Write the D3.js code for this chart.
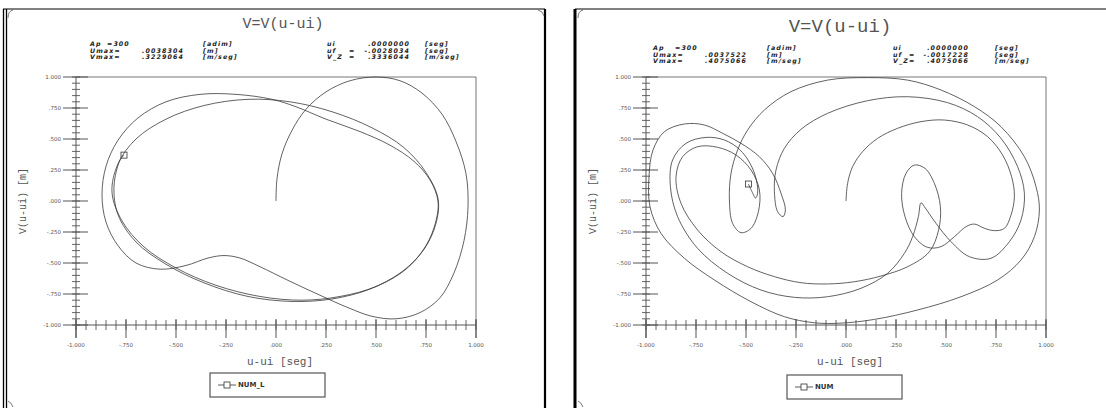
<!DOCTYPE html>
<html>
<head>
<meta charset="utf-8">
<script src="https://cdn.jsdelivr.net/npm/d3@7"></script>
<style>
body { margin: 0; background: #fff; }
svg { display: block; }
.hdr { font-family: "DejaVu Sans", sans-serif; font-style: italic; font-weight: bold; font-size: 6.3px; letter-spacing: 1.1px; fill: #222; }
.tk { font-family: "DejaVu Sans", sans-serif; font-size: 5.5px; fill: #555; }
.mono { font-family: "Liberation Mono", "DejaVu Sans Mono", monospace; fill: #555; }
.leg { font-family: "DejaVu Sans", sans-serif; font-weight: bold; font-size: 7px; fill: #333; }
</style>
</head>
<body>
<svg id="chart" width="1106" height="408"></svg>
<script>
// tick values and labels (same on both axes)
var tickValues = [-1, -0.75, -0.5, -0.25, 0, 0.25, 0.5, 0.75, 1];
var tickLabels = ["-1.000", "-.750", "-.500", "-.250", ".000", ".250", ".500", ".750", "1.000"];

var titles = ["V=V(u-ui)", "V=V(u-ui)"];
var xLabel = "u-ui [seg]";
var yLabel = "V(u-ui)  [m]";
var legendNames = ["NUM_L", "NUM"];

// header rows: label, value, unit, label, "=", value, unit
var headerLeft = [
    ["Ap", "=300", "[adim]", "ui", "", ".0000000", "[seg]"],
    ["Umax=", ".0038304", "[m]", "uf", "=", "-.0028034", "[seg]"],
    ["Vmax=", ".3229064", "[m/seg]", "V_Z", "=", ".3336044", "[m/seg]"]
];
var headerRight = [
    ["Ap", "=300", "[adim]", "ui", "", ".0000000", "[seg]"],
    ["Umax=", ".0037522", "[m]", "uf", "=", "-.0017228", "[seg]"],
    ["Vmax=", ".4075066", "[m/seg]", "V_Z", "=", ".4075066", "[m/seg]"]
];

// trajectory  [u-ui, V]
var leftPath = [
    [0.00, 0.00], [0.005, 0.18], [0.03, 0.38], [0.08, 0.57], [0.15, 0.74], [0.25, 0.88],
    [0.37, 0.97], [0.50, 1.00], [0.62, 0.97], [0.73, 0.87], [0.83, 0.70], [0.90, 0.48],
    [0.95, 0.22], [0.96, -0.05], [0.94, -0.32], [0.89, -0.58], [0.82, -0.78], [0.72, -0.90],
    [0.60, -0.95], [0.48, -0.93], [0.36, -0.86], [0.22, -0.76], [0.06, -0.64], [-0.08, -0.53],
    [-0.18, -0.46], [-0.26, -0.44], [-0.34, -0.46], [-0.45, -0.52], [-0.58, -0.55], [-0.70, -0.50],
    [-0.79, -0.36], [-0.85, -0.17], [-0.87, 0.05], [-0.85, 0.28], [-0.79, 0.49], [-0.69, 0.67],
    [-0.55, 0.80], [-0.38, 0.86], [-0.20, 0.86], [-0.02, 0.82], [0.10, 0.76], [0.25, 0.66],
    [0.42, 0.56], [0.57, 0.45], [0.69, 0.32], [0.77, 0.17], [0.81, 0.00],
    [0.80, -0.16], [0.75, -0.36], [0.65, -0.55], [0.50, -0.69], [0.32, -0.77], [0.13, -0.80],
    [-0.08, -0.77], [-0.30, -0.68], [-0.50, -0.54], [-0.66, -0.37], [-0.77, -0.16], [-0.82, 0.07],
    [-0.79, 0.30], [-0.70, 0.50], [-0.55, 0.66], [-0.36, 0.77], [-0.14, 0.82], [0.07, 0.80],
    [0.28, 0.72], [0.48, 0.59], [0.64, 0.43], [0.75, 0.23], [0.81, 0.02],
    [0.80, -0.18], [0.74, -0.39], [0.63, -0.57], [0.47, -0.71], [0.28, -0.79], [0.08, -0.81],
    [-0.14, -0.77], [-0.36, -0.66], [-0.55, -0.51], [-0.70, -0.33], [-0.79, -0.11], [-0.81, 0.12],
    [-0.78, 0.33], [-0.76, 0.37]
];

// trajectory  [u-ui, V]
var rightPath = [
    // first arc from the origin round the right side
    [0.000, 0.000], [0.008, 0.142], [0.033, 0.277], [0.083, 0.398], [0.158, 0.505], [0.258, 0.586],
    [0.375, 0.640], [0.492, 0.653], [0.608, 0.613], [0.708, 0.519], [0.783, 0.371], [0.828, 0.196],
    [0.842, 0.035], [0.825, -0.113], [0.792, -0.221],
    // wiggle, small right loop
    [0.742, -0.239], [0.692, -0.220], [0.642, -0.186], [0.600, -0.207], [0.542, -0.288], [0.475, -0.368],
    [0.408, -0.374], [0.342, -0.288], [0.295, -0.126], [0.278, 0.062], [0.300, 0.223], [0.342, 0.290],
    [0.395, 0.263], [0.442, 0.142], [0.472, -0.046], [0.463, -0.234], [0.417, -0.409], [0.308, -0.530],
    // inner lower band and left side
    [0.175, -0.605], [0.042, -0.651], [-0.092, -0.669], [-0.225, -0.659], [-0.358, -0.610], [-0.492, -0.530],
    [-0.625, -0.409], [-0.742, -0.234], [-0.825, -0.019], [-0.850, 0.196], [-0.817, 0.357], [-0.742, 0.438],
    // loop round the left well
    [-0.642, 0.433], [-0.550, 0.371], [-0.475, 0.250], [-0.433, 0.089], [-0.438, -0.086], [-0.475, -0.221],
    [-0.525, -0.255], [-0.567, -0.180], [-0.583, 0.008], [-0.575, 0.223], [-0.542, 0.411],
    // big outer loop
    [-0.492, 0.572], [-0.408, 0.734], [-0.275, 0.882], [-0.092, 0.975], [0.108, 0.995], [0.308, 0.975],
    [0.475, 0.895], [0.642, 0.761], [0.775, 0.599], [0.892, 0.357], [0.950, 0.116], [0.967, -0.073],
    [0.942, -0.288], [0.875, -0.476], [0.758, -0.637], [0.575, -0.772], [0.358, -0.879], [0.142, -0.955],
    [-0.025, -0.985], [-0.158, -0.982], [-0.308, -0.933], [-0.475, -0.812], [-0.658, -0.637], [-0.808, -0.462],
    [-0.925, -0.261], [-0.980, -0.046], [-0.985, 0.196], [-0.965, 0.411], [-0.908, 0.559], [-0.808, 0.621],
    [-0.708, 0.613], [-0.617, 0.546],
    // small left loop and second arc
    [-0.525, 0.465], [-0.433, 0.357], [-0.367, 0.223], [-0.325, 0.062], [-0.303, -0.073], [-0.315, -0.126],
    [-0.342, -0.086], [-0.358, 0.075], [-0.350, 0.250], [-0.308, 0.425], [-0.225, 0.578], [-0.092, 0.707],
    [0.108, 0.809], [0.308, 0.841], [0.508, 0.793], [0.658, 0.680], [0.775, 0.505], [0.858, 0.277],
    [0.892, 0.062], [0.875, -0.153], [0.817, -0.328], [0.725, -0.462], [0.617, -0.449], [0.525, -0.328],
    [0.450, -0.180], [0.392, -0.046], [0.375, -0.014],
    // cusp, second lower band, left side and hook
    [0.362, -0.126], [0.333, -0.288], [0.292, -0.422], [0.208, -0.583], [0.075, -0.704], [-0.092, -0.772],
    [-0.258, -0.777], [-0.425, -0.718], [-0.592, -0.583], [-0.742, -0.382], [-0.842, -0.126], [-0.878, 0.116],
    [-0.867, 0.331], [-0.800, 0.465], [-0.700, 0.513], [-0.608, 0.492], [-0.533, 0.417], [-0.478, 0.298],
    [-0.448, 0.169], [-0.442, 0.062], [-0.452, 0.024], [-0.470, 0.075], [-0.488, 0.137]
];

var svg = d3.select("#chart");

// panel frames
function curl(d) {
    svg.append("path").attr("d", d).attr("fill", "none").attr("stroke", "#555").attr("stroke-width", 0.8);
}
svg.append("line").attr("x1", 3.5).attr("x2", 3.5).attr("y1", 9).attr("y2", 408).attr("stroke", "#000").attr("stroke-width", 1.3);
svg.append("line").attr("x1", 6.5).attr("x2", 6.5).attr("y1", 9).attr("y2", 408).attr("stroke", "#000").attr("stroke-width", 1.3);
svg.append("line").attr("x1", 3).attr("x2", 545).attr("y1", 9).attr("y2", 9).attr("stroke", "#000").attr("stroke-width", 1);
svg.append("line").attr("x1", 545).attr("x2", 545).attr("y1", 9).attr("y2", 408).attr("stroke", "#000").attr("stroke-width", 2.2);
svg.append("line").attr("x1", 575).attr("x2", 575).attr("y1", 9).attr("y2", 408).attr("stroke", "#000").attr("stroke-width", 3);
svg.append("line").attr("x1", 575).attr("x2", 1106).attr("y1", 9).attr("y2", 9).attr("stroke", "#000").attr("stroke-width", 1);
curl("M8,18 Q8,11 13,10");
curl("M538,10 Q543,11 544,16");
curl("M578,18 Q578,11 583,10");
curl("M8,401 Q11,402 13,407");
curl("M578,401 Q581,402 583,407");

function drawPanel(offset, path, header, cols, rowY, title, titleSize, titleX, titleY, legendX, legendY, legendName) {
    var x = d3.scaleLinear().domain([-1, 1]).range([76 + offset, 476 + offset]);
    var y = d3.scaleLinear().domain([-1, 1]).range([325, 77]);
    var g = svg.append("g");
    var minor = d3.range(-20, 21).map(function(i) { return i * 0.05; });

    // box top and right
    g.append("line").attr("x1", x(-1)).attr("x2", x(1)).attr("y1", y(1)).attr("y2", y(1))
        .attr("stroke", "#777").attr("stroke-width", 1);
    g.append("line").attr("x1", x(1)).attr("x2", x(1)).attr("y1", y(1)).attr("y2", y(-1) + 13)
        .attr("stroke", "#777").attr("stroke-width", 1);
    // axes lines
    g.append("line").attr("x1", x(-1)).attr("x2", x(1)).attr("y1", y(-1)).attr("y2", y(-1))
        .attr("stroke", "#555").attr("stroke-width", 1);
    g.append("line").attr("x1", x(-1)).attr("x2", x(-1)).attr("y1", y(1)).attr("y2", y(-1) + 13)
        .attr("stroke", "#555").attr("stroke-width", 1);

    // minor ticks
    g.selectAll(".mx").data(minor).enter().append("line")
        .attr("x1", function(d) { return x(d); }).attr("x2", function(d) { return x(d); })
        .attr("y1", y(-1) - 5).attr("y2", y(-1) + 5)
        .attr("stroke", "#555").attr("stroke-width", 0.9);
    g.selectAll(".my").data(minor).enter().append("line")
        .attr("y1", function(d) { return y(d); }).attr("y2", function(d) { return y(d); })
        .attr("x1", x(-1) - 4).attr("x2", x(-1) + 4)
        .attr("stroke", "#555").attr("stroke-width", 0.9);
    // major ticks
    g.selectAll(".Mx").data(tickValues).enter().append("line")
        .attr("x1", function(d) { return x(d); }).attr("x2", function(d) { return x(d); })
        .attr("y1", y(-1) - 6).attr("y2", y(-1) + 13)
        .attr("stroke", "#555").attr("stroke-width", 1);
    g.selectAll(".My").data(tickValues).enter().append("line")
        .attr("y1", function(d) { return y(d); }).attr("y2", function(d) { return y(d); })
        .attr("x1", x(-1) - 13).attr("x2", x(-1) + 12)
        .attr("stroke", "#555").attr("stroke-width", 1);
    // tick labels
    g.selectAll(".lx").data(tickValues).enter().append("text")
        .attr("class", "tk").attr("text-anchor", "middle")
        .attr("x", function(d) { return x(d); }).attr("y", y(-1) + 22)
        .text(function(d, i) { return tickLabels[i]; });
    g.selectAll(".ly").data(tickValues).enter().append("text")
        .attr("class", "tk").attr("text-anchor", "end")
        .attr("x", x(-1) - 15).attr("y", function(d) { return y(d) + 2; })
        .text(function(d, i) { return tickLabels[i]; });

    // axis titles
    g.append("text").attr("class", "mono").attr("font-size", 11).attr("text-anchor", "middle")
        .attr("x", x(0.02)).attr("y", 365).text(xLabel);
    g.append("text").attr("class", "mono").attr("font-size", 10).attr("text-anchor", "middle")
        .attr("transform", "translate(" + (26 + offset) + "," + y(0) + ") rotate(-90)")
        .text(yLabel);

    // title
    g.append("text").attr("class", "mono").attr("fill", "#333").attr("font-size", titleSize)
        .attr("text-anchor", "middle").attr("x", titleX).attr("y", titleY).text(title);

    // header block
    header.forEach(function(row, r) {
        row.forEach(function(s, c) {
            var cx = cols[c];
            var anchor = "start";
            if (c == 1 && r == 0) cx = cols[7];
            if (c == 5) anchor = "end";
            g.append("text").attr("class", "hdr").attr("text-anchor", anchor)
                .attr("x", cx).attr("y", rowY[r]).text(s);
        });
    });

    // trajectory
    var line = d3.line()
        .x(function(d) { return x(d[0]); })
        .y(function(d) { return y(d[1]); })
        .curve(d3.curveCatmullRom.alpha(0.5));
    g.append("path").datum(path).attr("d", line)
        .attr("fill", "none").attr("stroke", "#3a3a3a").attr("stroke-width", 0.8);
    var last = path[path.length - 1];
    g.append("rect").attr("x", x(last[0]) - 3).attr("y", y(last[1]) - 3)
        .attr("width", 6).attr("height", 6)
        .attr("fill", "none").attr("stroke", "#333").attr("stroke-width", 0.8);

    // legend
    var lx = legendX, ly = legendY;
    g.append("rect").attr("x", lx).attr("y", ly).attr("width", 115).attr("height", 24)
        .attr("fill", "#fff").attr("stroke", "#555").attr("stroke-width", 1.2);
    g.append("line").attr("x1", lx + 8).attr("x2", lx + 26).attr("y1", ly + 12).attr("y2", ly + 12)
        .attr("stroke", "#333").attr("stroke-width", 0.8);
    g.append("rect").attr("x", lx + 14).attr("y", ly + 9).attr("width", 6).attr("height", 6)
        .attr("fill", "#fff").attr("stroke", "#333").attr("stroke-width", 0.8);
    g.append("text").attr("class", "leg").attr("x", lx + 28).attr("y", ly + 14).text(legendName);
}

drawPanel(0, leftPath, headerLeft, [90, 142, 203, 327, 349, 410, 425, 107], [46, 52.5, 59],
    titles[0], 15, 283, 28, 210, 373, legendNames[0]);
drawPanel(570, rightPath, headerRight, [653, 705, 767, 893, 909, 969, 995, 675], [50, 56.5, 63],
    titles[1], 19, 840, 32, 787, 375, legendNames[1]);
</script>
</body>
</html>
